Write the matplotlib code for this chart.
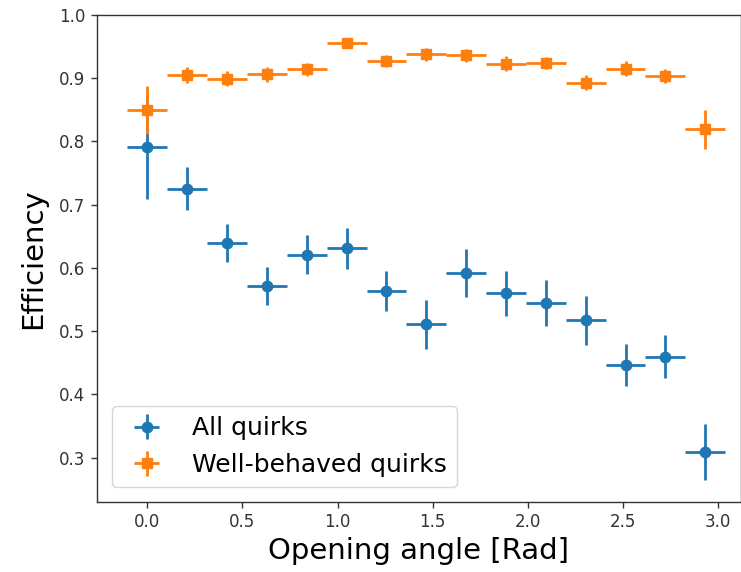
import matplotlib
matplotlib.use("Agg")
import matplotlib.pyplot as plt
import numpy as np

# Opening-angle bins: 15 equal bins between 0 and pi, plotted at bin start
n_bins = 15
bin_width = np.pi / n_bins
angles = np.arange(n_bins) * bin_width

# Efficiency per bin and its uncertainty
eff_all = [0.791, 0.725, 0.639, 0.572, 0.621, 0.631, 0.564, 0.511,
           0.592, 0.560, 0.545, 0.517, 0.447, 0.460, 0.309]
err_all = [0.082, 0.034, 0.030, 0.030, 0.031, 0.032, 0.032, 0.039,
           0.038, 0.036, 0.036, 0.039, 0.033, 0.034, 0.044]

eff_good = [0.850, 0.905, 0.899, 0.906, 0.914, 0.956, 0.927, 0.938,
            0.936, 0.923, 0.924, 0.893, 0.915, 0.904, 0.819]
err_good = [0.038, 0.013, 0.012, 0.012, 0.010, 0.008, 0.010, 0.010,
            0.010, 0.012, 0.010, 0.012, 0.012, 0.011, 0.031]

fig = plt.figure(figsize=(7.41, 5.72), dpi=100)
ax = fig.add_axes([0.1305, 0.1224, 0.8695, 0.8514])

ax.errorbar(angles, eff_all, xerr=bin_width / 2, yerr=err_all,
            fmt='o', color='tab:blue', markersize=7.5, elinewidth=2,
            label='All quirks')
ax.errorbar(angles, eff_good, xerr=bin_width / 2, yerr=err_good,
            fmt='s', color='tab:orange', markersize=7.5, elinewidth=2,
            label='Well-behaved quirks')

ax.set_xlim(-0.266, 3.12)
ax.set_ylim(0.23, 1.0)
ax.set_xticks([0.0, 0.5, 1.0, 1.5, 2.0, 2.5, 3.0])
ax.tick_params(labelsize=12, length=4.5, width=1, colors='#333333')
for spine in ax.spines.values():
    spine.set_linewidth(1)
    spine.set_color('#333333')

ax.set_xlabel("Opening angle [Rad]", fontsize=21)
ax.set_ylabel("Efficiency", fontsize=21, labelpad=9)
ax.legend(loc='lower left', fontsize=18, borderaxespad=0.6)

fig.savefig("out.png", dpi=100)
